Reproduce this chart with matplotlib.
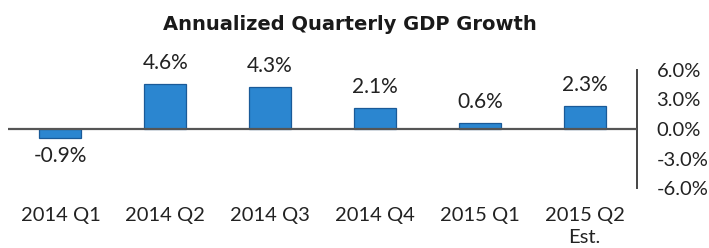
import matplotlib.pyplot as plt
from matplotlib.ticker import FuncFormatter

# data
quarters = ["2014 Q1", "2014 Q2", "2014 Q3", "2014 Q4", "2015 Q1", "2015 Q2\nEst."]
growth = [-0.9, 4.6, 4.3, 2.1, 0.6, 2.3]
y_ticks = [-6.0, -3.0, 0.0, 3.0, 6.0]

plt.rcParams['font.family'] = ['Lato', 'DejaVu Sans']

fig = plt.figure(figsize=(7.09, 2.48), dpi=100)
ax = fig.add_axes([8 / 709, 60 / 248, 629 / 709, 118 / 248])

x = list(range(len(quarters)))
ax.bar(x, growth, width=0.4, color='#2b86d0', edgecolor='#1a5a98', linewidth=0.9, zorder=2)

for xi, v in zip(x, growth):
    if v >= 0:
        ax.annotate(f"{v:.1f}%", (xi, v), xytext=(0, 8), textcoords='offset points',
                    ha='center', va='bottom', fontsize=15, color='#222222')
    else:
        ax.annotate(f"{v:.1f}%", (xi, v), xytext=(0, -6), textcoords='offset points',
                    ha='center', va='top', fontsize=15, color='#222222')

ax.axhline(0, color='#555555', lw=1.6, zorder=3)

ax.set_xlim(-0.5, 5.5)
ax.set_ylim(-6, 6)

ax.set_xticks(x)
ax.set_xticklabels(quarters, fontsize=14.5, color='#222222', linespacing=1.35)
ax.tick_params(axis='x', length=0, pad=14)

ax.yaxis.tick_right()
ax.set_yticks(y_ticks)
ax.yaxis.set_major_formatter(FuncFormatter(lambda v, p: f"{v:.1f}%"))
ax.tick_params(axis='y', length=0, pad=14, labelsize=14.5, labelcolor='#222222')

for s in ['top', 'left', 'bottom']:
    ax.spines[s].set_visible(False)
ax.spines['right'].set_color('#444444')
ax.spines['right'].set_linewidth(1.4)

fig.text(350 / 709, 1 - 25 / 248, "Annualized Quarterly GDP Growth", ha='center', va='center',
         fontsize=14, fontweight='bold', color='#1a1a1a', family=['DejaVu Sans'])

fig.savefig("out.png", dpi=100)
